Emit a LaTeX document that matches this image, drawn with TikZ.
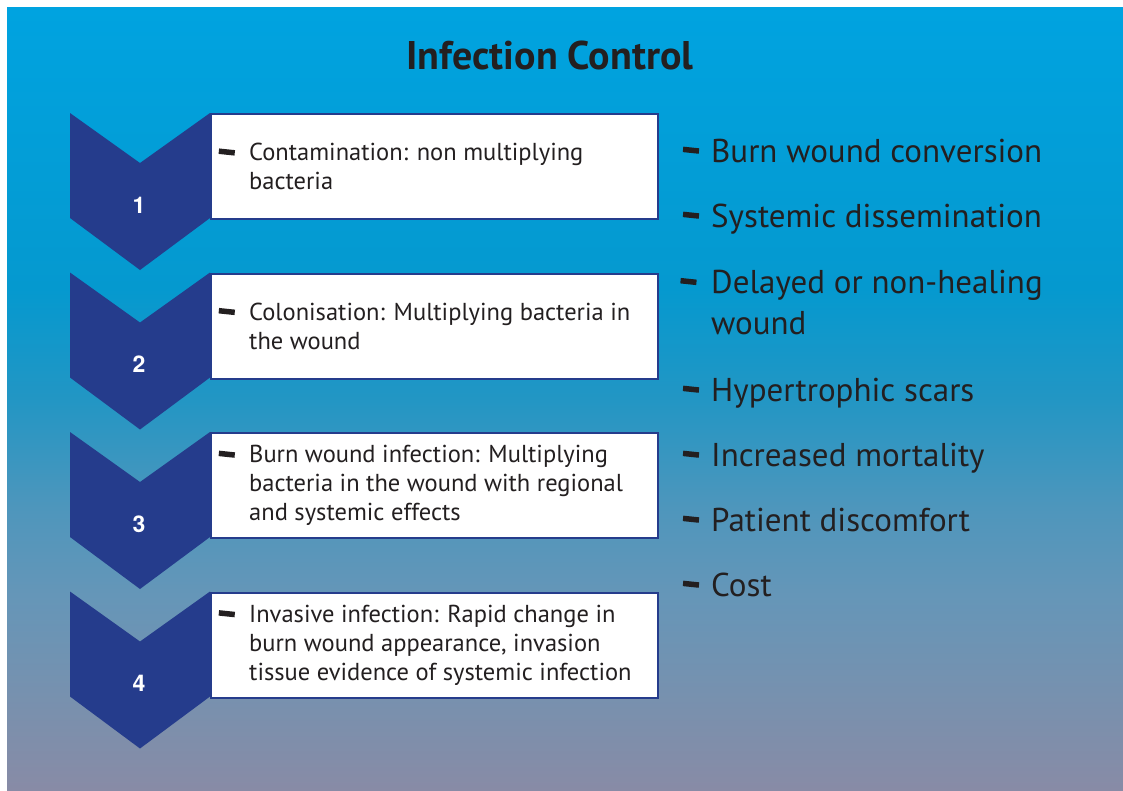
\documentclass[tikz,border=0pt]{standalone}
\usepackage{fontspec}
\setmainfont{PT Sans}
\newfontfamily\numfont{TeX Gyre Heros}
\usetikzlibrary{positioning}
\definecolor{navy}{HTML}{253C8C}
\definecolor{ink}{HTML}{231F20}
\definecolor{fadeA}{HTML}{00A3E0}
\definecolor{fadeB}{HTML}{0599CF}
\definecolor{fadeC}{HTML}{2296C4}
\definecolor{fadeD}{HTML}{4E96BC}
\definecolor{fadeE}{HTML}{6596B8}
\definecolor{fadeF}{HTML}{7A90AD}
\definecolor{fadeG}{HTML}{888BA6}
\pgfdeclareverticalshading{bgfade}{100bp}{color(0bp)=(fadeG); color(25bp)=(fadeG); color(30bp)=(fadeF); color(37.5bp)=(fadeE); color(43bp)=(fadeD); color(50bp)=(fadeC); color(57bp)=(fadeB); color(75bp)=(fadeA); color(100bp)=(fadeA)}
\tikzset{
	chev/.style={fill=navy},
	stepbox/.style={draw=navy, line width=2pt, fill=white, minimum width=447pt, minimum height=105pt, anchor=north west, inner sep=0pt},
	steptext/.style={align=left, font=\fontsize{24.5}{29}\selectfont, text=ink, inner sep=0pt},
	num/.style={text=white, font=\numfont\fontsize{23}{26}\selectfont\bfseries},
	bar/.style={fill=ink, minimum width=16pt, minimum height=5.5pt, inner sep=0pt, rotate=-6},
	effect/.style={anchor=base west, align=left, font=\fontsize{33}{41}\selectfont, text=ink, inner sep=0pt},
	heading/.style={font=\fontsize{40}{44}\selectfont\bfseries, text=ink}
}

\begin{document}
\begin{tikzpicture}[x=1pt, y=-1pt]
	\useasboundingbox (0,0) rectangle (1123,790);
	\fill[white] (0,0) rectangle (1123,790);
	\shade[shading=bgfade] (7,7) rectangle (1123,790);

	\node[heading] (head) at (550,55) {Infection Control};

	% stages
	\fill[chev] (70,113) -- ++(70,50) -- ++(70,-50) -- ++(0,105) -- ++(-70,52) -- ++(-70,-52) -- cycle;
	\fill[chev] (70,272.5) -- ++(70,50) -- ++(70,-50) -- ++(0,105) -- ++(-70,52) -- ++(-70,-52) -- cycle;
	\fill[chev] (70,432) -- ++(70,50) -- ++(70,-50) -- ++(0,105) -- ++(-70,52) -- ++(-70,-52) -- cycle;
	\fill[chev] (70,591.5) -- ++(70,50) -- ++(70,-50) -- ++(0,105) -- ++(-70,52) -- ++(-70,-52) -- cycle;
	\node[num] (n1) at (139,205) {1};
	\node[num] (n2) at (139,364.5) {2};
	\node[num] (n3) at (139,524) {3};
	\node[num] (n4) at (139,683.5) {4};

	\node[stepbox] (box1) at (210,113) {};
	\node[stepbox] (box2) at (210,272.5) {};
	\node[stepbox] (box3) at (210,432) {};
	\node[stepbox] (box4) at (210,591.5) {};
	\node[steptext, right=39pt of box1.west] (t1) {Contamination: non multiplying\\bacteria};
	\node[steptext, right=39pt of box2.west] (t2) {Colonisation: Multiplying bacteria in\\the wound};
	\node[steptext, right=39pt of box3.west] (t3) {Burn wound infection: Multiplying\\bacteria in the wound with regional\\and systemic effects};
	\node[steptext, right=39pt of box4.west] (t4) {Invasive infection: Rapid change in\\burn wound appearance, invasion\\tissue evidence of systemic infection};
	\node[bar, left=13pt of t1.north west, yshift=-10pt] (b1) {};
	\node[bar, left=13pt of t2.north west, yshift=-10pt] (b2) {};
	\node[bar, left=13pt of t3.north west, yshift=-10pt] (b3) {};
	\node[bar, left=13pt of t4.north west, yshift=-10pt] (b4) {};

	% consequences
	\node[effect] (e1) at (711,162) {Burn wound conversion};
	\node[effect] (e2) at (711,227) {Systemic dissemination};
	\node[effect] (e3) at (711,334) {Delayed or non-healing\\wound};
	\node[effect] (e4) at (711,401) {Hypertrophic scars};
	\node[effect] (e5) at (711,466) {Increased mortality};
	\node[effect] (e6) at (711,531) {Patient discomfort};
	\node[effect] (e7) at (711,596) {Cost};
	\node[bar, left=13pt of e1.base west, yshift=11pt] (c1) {};
	\node[bar, left=13pt of e2.base west, yshift=11pt] (c2) {};
	\node[bar, left=13pt of e3.north west, yshift=-13pt] (c3) {};
	\node[bar, left=13pt of e4.base west, yshift=11pt] (c4) {};
	\node[bar, left=13pt of e5.base west, yshift=11pt] (c5) {};
	\node[bar, left=13pt of e6.base west, yshift=11pt] (c6) {};
	\node[bar, left=13pt of e7.base west, yshift=11pt] (c7) {};
\end{tikzpicture}
\end{document}
